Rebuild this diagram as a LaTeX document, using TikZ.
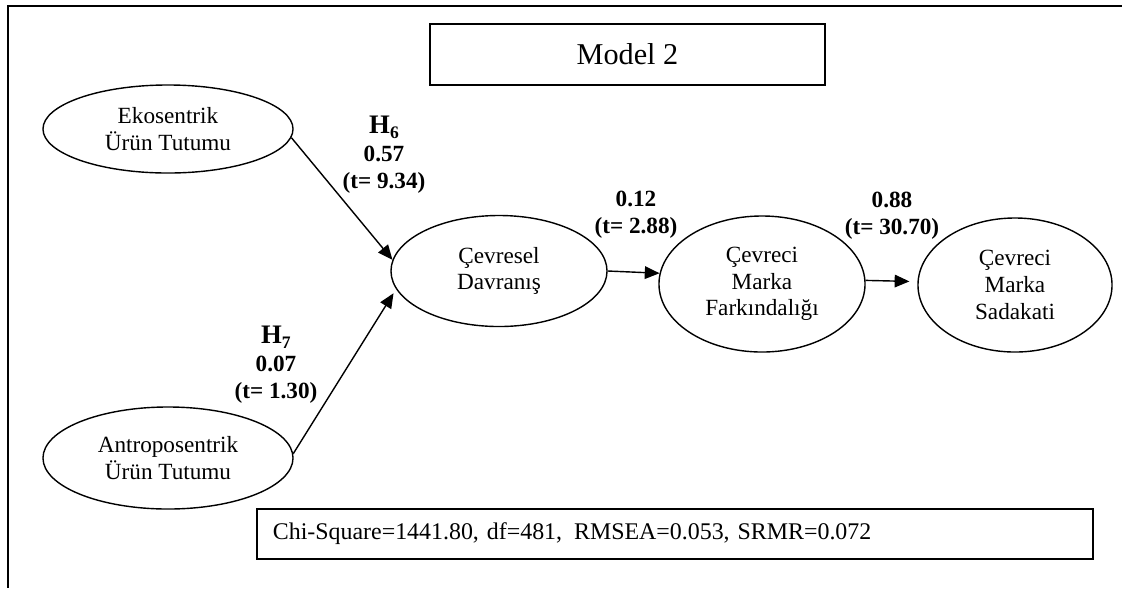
\documentclass[tikz,border=0pt]{standalone}
\usepackage{fontspec}
\setmainfont{Liberation Serif}
\usetikzlibrary{arrows.meta,shapes.geometric}

\begin{document}
\begin{tikzpicture}[
    x=0.025cm, y=-0.025cm,
    latent/.style={ellipse, draw, line width=1pt, inner sep=0pt, align=center,
      font=\fontsize{16.5}{19}\selectfont},
    path/.style={-{Triangle[length=10.5pt, width=9pt]}, line width=1pt},
    coef/.style={align=center, font=\fontsize{16.5}{19.5}\selectfont\bfseries},
    infobox/.style={draw, line width=1.1pt, inner sep=0pt}
  ]
  \useasboundingbox (0,0) rectangle (1122,588);
  % outer frame
  \draw[line width=1.2pt] (1122,6) -- (8,6) -- (8,588);

  \node[infobox, minimum width=9.875cm, minimum height=1.525cm,
    font=\fontsize{21.5}{24}\selectfont] (title) at (627.5,54.5) {Model 2};

  \node[latent, minimum width=6.25cm, minimum height=2.2cm] (eko) at (168,129) {Ekosentrik\\Ürün Tutumu};
  \node[latent, minimum width=6.25cm, minimum height=2.55cm] (antro) at (168,458) {Antroposentrik\\Ürün Tutumu};
  \node[latent, minimum width=5.4cm, minimum height=2.775cm] (davranis) at (499,271) {Çevresel\\Davranış};
  \node[latent, minimum width=5.15cm, minimum height=3.4cm] (farkindalik) at (762,284) {Çevreci\\Marka\\Farkındalığı};
  \node[latent, minimum width=4.85cm, minimum height=3.35cm] (sadakat) at (1015,285) {Çevreci\\Marka\\Sadakati};

  \draw[path] (eko.-4) -- (davranis.174);
  \draw[path, shorten >=0.12cm] (antro.2) -- (davranis.190);
  \draw[path] (davranis.east) -- (farkindalik.174);
  \draw[path, shorten >=0.2cm] (farkindalik.2) -- (sadakat.178);

  % path coefficients
  \node[coef] (h6) at (384,155) {{\fontsize{19}{19.5}\selectfont H}\raisebox{-0.22em}{\fontsize{12.5}{12.5}\selectfont 6}\\0.57\\(t= 9.34)};
  \node[coef] (h7) at (276,365) {{\fontsize{19}{19.5}\selectfont H}\raisebox{-0.22em}{\fontsize{12.5}{12.5}\selectfont 7}\\0.07\\(t= 1.30)};
  \node[coef] (b12) at (636,215) {0.12\\(t= 2.88)};
  \node[coef] (b88) at (892,215.5) {0.88\\(t= 30.70)};

  \node[infobox, minimum width=20.9cm, minimum height=1.25cm, text width=20.1cm, align=left,
    font=\fontsize{17}{19}\selectfont] (fit) at (675,534) {Chi-Square=1441.80, df=481,\,\ RMSEA=0.053, SRMR=0.072};
\end{tikzpicture}
\end{document}
